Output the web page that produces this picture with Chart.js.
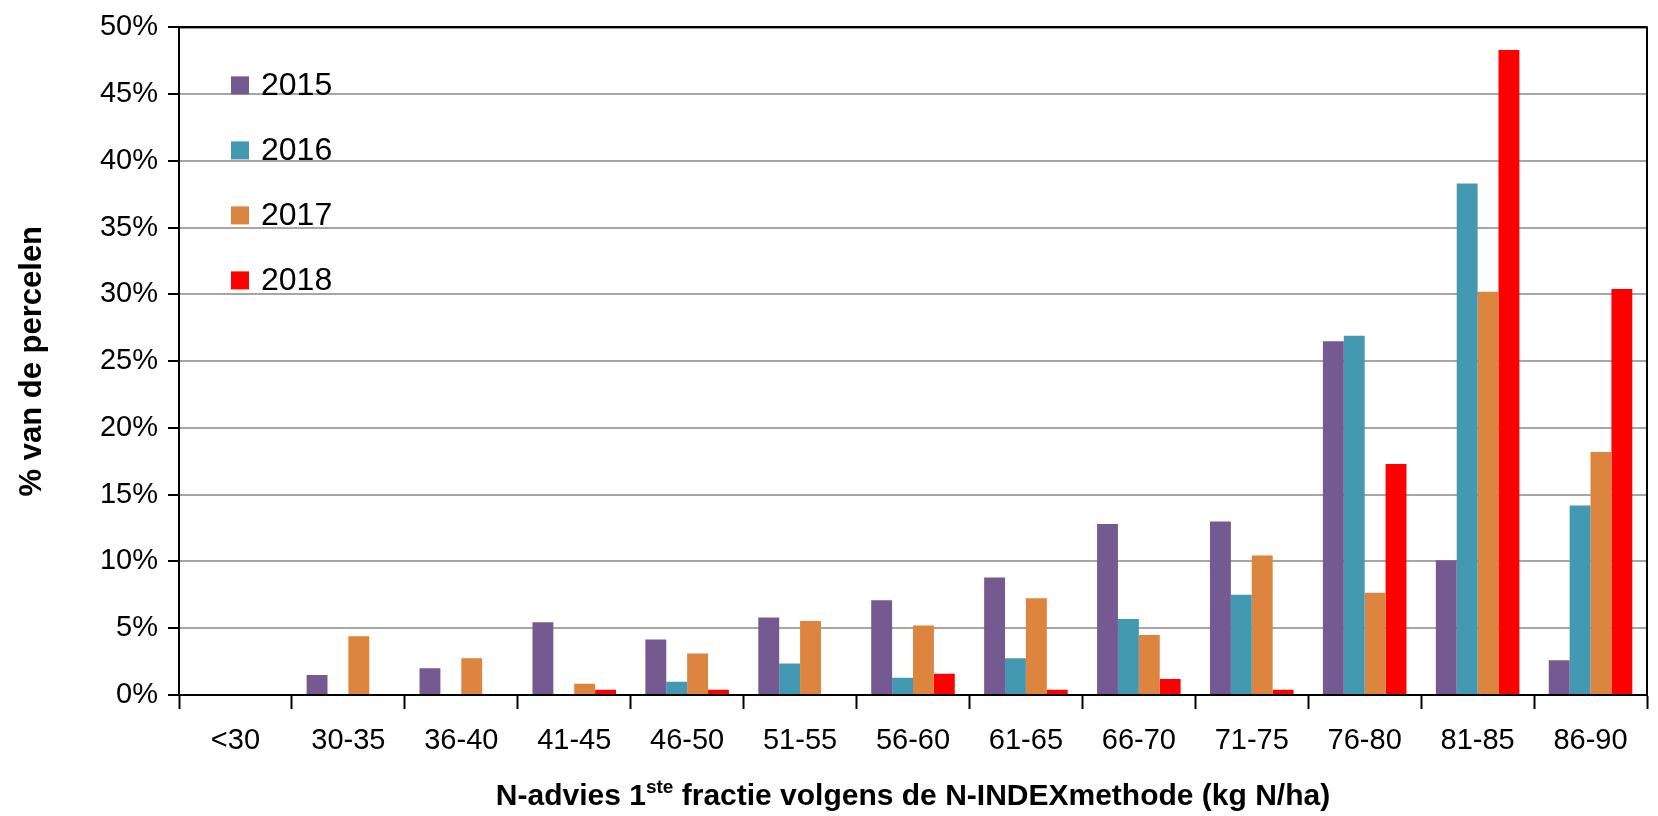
<!DOCTYPE html>
<html>
<head>
<meta charset="utf-8">
<script src="https://cdn.jsdelivr.net/npm/chart.js@4/dist/chart.umd.min.js"></script>
<style>
    html, body { margin: 0; padding: 0; background: #fff; }
    #wrap { width: 1658px; height: 816px; position: relative; }
</style>
</head>
<body>
<div id="wrap"><canvas id="myChart"></canvas></div>
<script>
const categories = ['<30', '30-35', '36-40', '41-45', '46-50', '51-55', '56-60', '61-65', '66-70', '71-75', '76-80', '81-85', '86-90'];
const years = ['2015', '2016', '2017', '2018'];
const values2015 = [0, 1.5, 2.0, 5.45, 4.15, 5.8, 7.1, 8.8, 12.8, 13.0, 26.5, 10.1, 2.6];
const values2016 = [0, 0, 0, 0, 1.0, 2.35, 1.3, 2.75, 5.7, 7.5, 26.9, 38.3, 14.2];
const values2017 = [0, 4.4, 2.75, 0.85, 3.1, 5.55, 5.2, 7.25, 4.5, 10.45, 7.65, 30.2, 18.2];
const values2018 = [0, 0, 0, 0.4, 0.4, 0, 1.6, 0.4, 1.2, 0.4, 17.3, 48.3, 30.4];
const yTicks = [0, 5, 10, 15, 20, 25, 30, 35, 40, 45, 50];
const colors = ['#745A90', '#4399B1', '#DD843E', '#FF0000'];

const FONT = "'Liberation Sans', Arial, sans-serif";

// legend inside the plot area, top left
const innerLegend = {
    id: 'innerLegend',
    afterDraw(chart) {
        const c = chart.ctx;
        const area = chart.chartArea;
        c.save();
        c.font = '32px ' + FONT;
        c.textBaseline = 'middle';
        chart.data.datasets.forEach((ds, i) => {
            const y = area.top + 58 + i * 65;
            c.fillStyle = ds.backgroundColor;
            c.fillRect(area.left + 52, y - 9, 18, 18);
            c.fillStyle = '#000';
            c.fillText(ds.label, area.left + 82, y + 1);
        });
        c.restore();
    }
};

// axis titles (x title has a superscript)
const axisTitles = {
    id: 'axisTitles',
    afterDraw(chart) {
        const c = chart.ctx;
        const area = chart.chartArea;
        c.save();
        c.fillStyle = '#000';
        c.textBaseline = 'alphabetic';

        const big = 'bold 30px ' + FONT;
        const small = 'bold 19px ' + FONT;
        const parts = [
            ['N-advies 1', big, 0],
            ['ste', small, -12],
            [' fractie volgens de N-INDEXmethode (kg N/ha)', big, 0]
        ];
        let total = 0;
        parts.forEach(p => { c.font = p[1]; total += c.measureText(p[0]).width; });
        let x = (area.left + area.right) / 2 - total / 2;
        const base = 805;
        parts.forEach(p => {
            c.font = p[1];
            c.fillText(p[0], x, base + p[2]);
            x += c.measureText(p[0]).width;
        });

        c.translate(32, (area.top + area.bottom) / 2);
        c.rotate(-Math.PI / 2);
        c.font = 'bold 31px ' + FONT;
        c.textAlign = 'center';
        c.textBaseline = 'middle';
        c.fillText('% van de percelen', 0, 0);
        c.restore();
    }
};

// black frame round the plot area
const plotFrame = {
    id: 'plotFrame',
    afterDatasetsDraw(chart) {
        const c = chart.ctx;
        const a = chart.chartArea;
        c.save();
        c.strokeStyle = '#000';
        c.lineWidth = 2;
        c.strokeRect(a.left, a.top, a.right - a.left, a.bottom - a.top);
        c.restore();
    }
};

const seriesValues = [values2015, values2016, values2017, values2018];

const ctx = document.getElementById('myChart').getContext('2d');
const chart = new Chart(ctx, {
    type: 'bar',
    data: {
        labels: categories,
        datasets: years.map((y, i) => ({
            label: y,
            data: seriesValues[i],
            backgroundColor: colors[i],
            borderWidth: 0,
            categoryPercentage: 0.74,
            barPercentage: 1.0
        }))
    },
    options: {
        responsive: true,
        maintainAspectRatio: false,
        animation: false,
        layout: {
            padding: { top: 23, right: 11, bottom: 0, left: 0 }
        },
        plugins: {
            legend: { display: false },
            tooltip: { enabled: false }
        },
        scales: {
            x: {
                grid: {
                    display: true,
                    drawOnChartArea: false,
                    drawTicks: true,
                    tickLength: 14,
                    tickColor: '#000',
                    tickWidth: 2
                },
                border: { color: '#000', width: 2 },
                ticks: {
                    color: '#000',
                    font: { family: FONT, size: 29 },
                    padding: 15,
                    maxRotation: 0,
                    autoSkip: false
                },
                afterFit: function(scale) { scale.height = 121; }
            },
            y: {
                min: 0,
                max: 50,
                afterBuildTicks: function(scale) {
                    scale.ticks = yTicks.map(v => ({ value: v }));
                },
                grid: {
                    color: function(context) {
                        return context.tick && context.tick.value === 50 ? '#000' : '#A6A6A6';
                    },
                    lineWidth: 2,
                    tickLength: 11,
                    tickColor: '#000',
                    tickWidth: 2
                },
                border: { color: '#000', width: 2 },
                ticks: {
                    color: '#000',
                    font: { family: FONT, size: 29 },
                    padding: 10,
                    callback: function(v) { return v + '%'; }
                },
                afterFit: function(scale) { scale.width = 179; }
            }
        }
    },
    plugins: [innerLegend, axisTitles, plotFrame]
});
</script>
</body>
</html>
